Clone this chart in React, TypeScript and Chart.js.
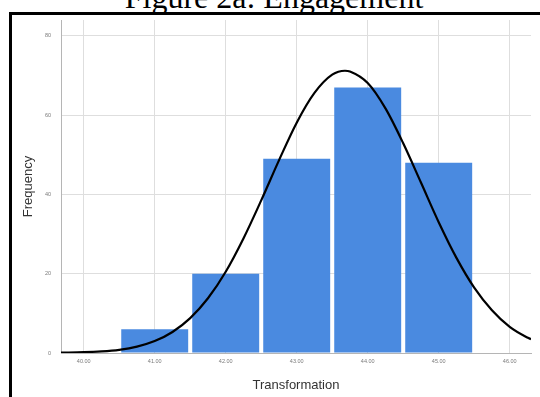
import React, { useEffect, useRef } from "react";
import { Chart, registerables } from "chart.js";

Chart.register(...registerables);

// Histogram bins (centres) and frequencies
const binCenters = [41, 42, 43, 44, 45];
const frequencies = [6, 20, 49, 67, 48];

// Fitted normal curve
const curveX = [
  39.68, 40, 40.25, 40.5, 40.75, 41, 41.25, 41.5, 41.75, 42, 42.25, 42.5, 42.75, 43, 43.25,
  43.5, 43.68, 43.75, 44, 44.25, 44.5, 44.75, 45, 45.25, 45.5, 45.75, 46, 46.25, 46.3,
];
const curveY = [
  0.1, 0.2, 0.4, 0.8, 1.6, 3.0, 5.3, 8.8, 13.8, 20.5, 28.9, 38.5, 48.6, 58.1, 65.6,
  70.2, 71.2, 71.0, 68.1, 61.7, 52.9, 43.0, 33.0, 24.0, 16.5, 10.8, 6.6, 3.9, 3.5,
];

// Axis ticks
const xTicks = [40, 41, 42, 43, 44, 45, 46];
const yTicks = [0, 20, 40, 60, 80];

const titleText = "Figure 2a: Engagement";
const xTitle = "Transformation";
const yTitle = "Frequency";

export default function App() {
  const canvasRef = useRef<HTMLCanvasElement | null>(null);

  useEffect(() => {
    const canvas = canvasRef.current;
    if (!canvas) return;
    const chart = new Chart(canvas, {
      type: "bar",
      data: {
        datasets: [
          {
            type: "line",
            label: "Normal",
            data: curveX.map((x, i) => ({ x, y: curveY[i] })),
            borderColor: "#000000",
            borderWidth: 2.2,
            pointRadius: 0,
            fill: false,
            cubicInterpolationMode: "monotone",
            order: 0,
          } as any,
          {
            type: "bar",
            label: "Frequency",
            data: binCenters.map((x, i) => ({ x, y: frequencies[i] })),
            backgroundColor: "#4a8ae0",
            borderWidth: 0,
            barPercentage: 1,
            categoryPercentage: 0.943,
            order: 1,
          } as any,
        ],
      },
      options: {
        responsive: false,
        animation: false,
        layout: { padding: { left: 0, top: 20, right: 9, bottom: 0 } },
        plugins: {
          legend: { display: false },
          tooltip: { enabled: false },
          title: { display: false },
        },
        scales: {
          x: {
            type: "linear",
            min: 39.68,
            max: 46.3,
            offset: false,
            afterFit: (s: any) => {
              s.height = 44;
            },
            afterBuildTicks: (s: any) => {
              s.ticks = xTicks.map((v) => ({ value: v }));
            },
            grid: { color: "#dedede", lineWidth: 1, drawTicks: false, offset: false },
            border: { color: "#b5b5b5", width: 1 },
            ticks: {
              padding: 5,
              color: "#7a7a7a",
              font: { family: "'Liberation Sans', Arial, sans-serif", size: 5.5 },
              callback: (v: any) => Number(v).toFixed(2),
              maxRotation: 0,
              autoSkip: false,
            },
            title: {
              display: true,
              text: xTitle,
              color: "#333333",
              font: { family: "'Liberation Sans', Arial, sans-serif", size: 13 },
              padding: { top: 0, bottom: 4 },
            },
          },
          y: {
            type: "linear",
            min: 0,
            max: 84,
            afterFit: (s: any) => {
              s.width = 61;
            },
            afterBuildTicks: (s: any) => {
              s.ticks = yTicks.map((v) => ({ value: v }));
            },
            grid: { color: "#dedede", lineWidth: 1, drawTicks: false },
            border: { color: "#b5b5b5", width: 1 },
            ticks: {
              padding: 10,
              color: "#7a7a7a",
              font: { family: "'Liberation Sans', Arial, sans-serif", size: 5.5 },
              callback: (v: any) => String(v),
            },
            title: {
              display: true,
              text: yTitle,
              color: "#333333",
              font: { family: "'Liberation Sans', Arial, sans-serif", size: 13 },
              padding: { top: 21, bottom: 0 },
            },
          },
        },
      },
    });
    return () => chart.destroy();
  }, []);

  return (
    <div
      style={{
        position: "fixed",
        left: 0,
        top: 0,
        width: 540,
        height: 397,
        overflow: "hidden",
        background: "#ffffff",
      }}
    >
      <div
        style={{
          position: "absolute",
          left: 0,
          top: -19,
          width: 548,
          textAlign: "center",
          fontFamily: "'Liberation Serif', 'Times New Roman', serif",
          fontSize: 32,
          lineHeight: "32px",
          whiteSpace: "nowrap",
          color: "#000",
        }}
      >
        {titleText}
      </div>
      <div
        style={{
          position: "absolute",
          left: 9,
          top: 12,
          width: 600,
          height: 500,
          border: "3px solid #000",
          boxSizing: "border-box",
        }}
      />
      <canvas
        ref={canvasRef}
        width={540}
        height={397}
        style={{ position: "absolute", left: 0, top: 0, width: 540, height: 397 }}
      />
    </div>
  );
}
